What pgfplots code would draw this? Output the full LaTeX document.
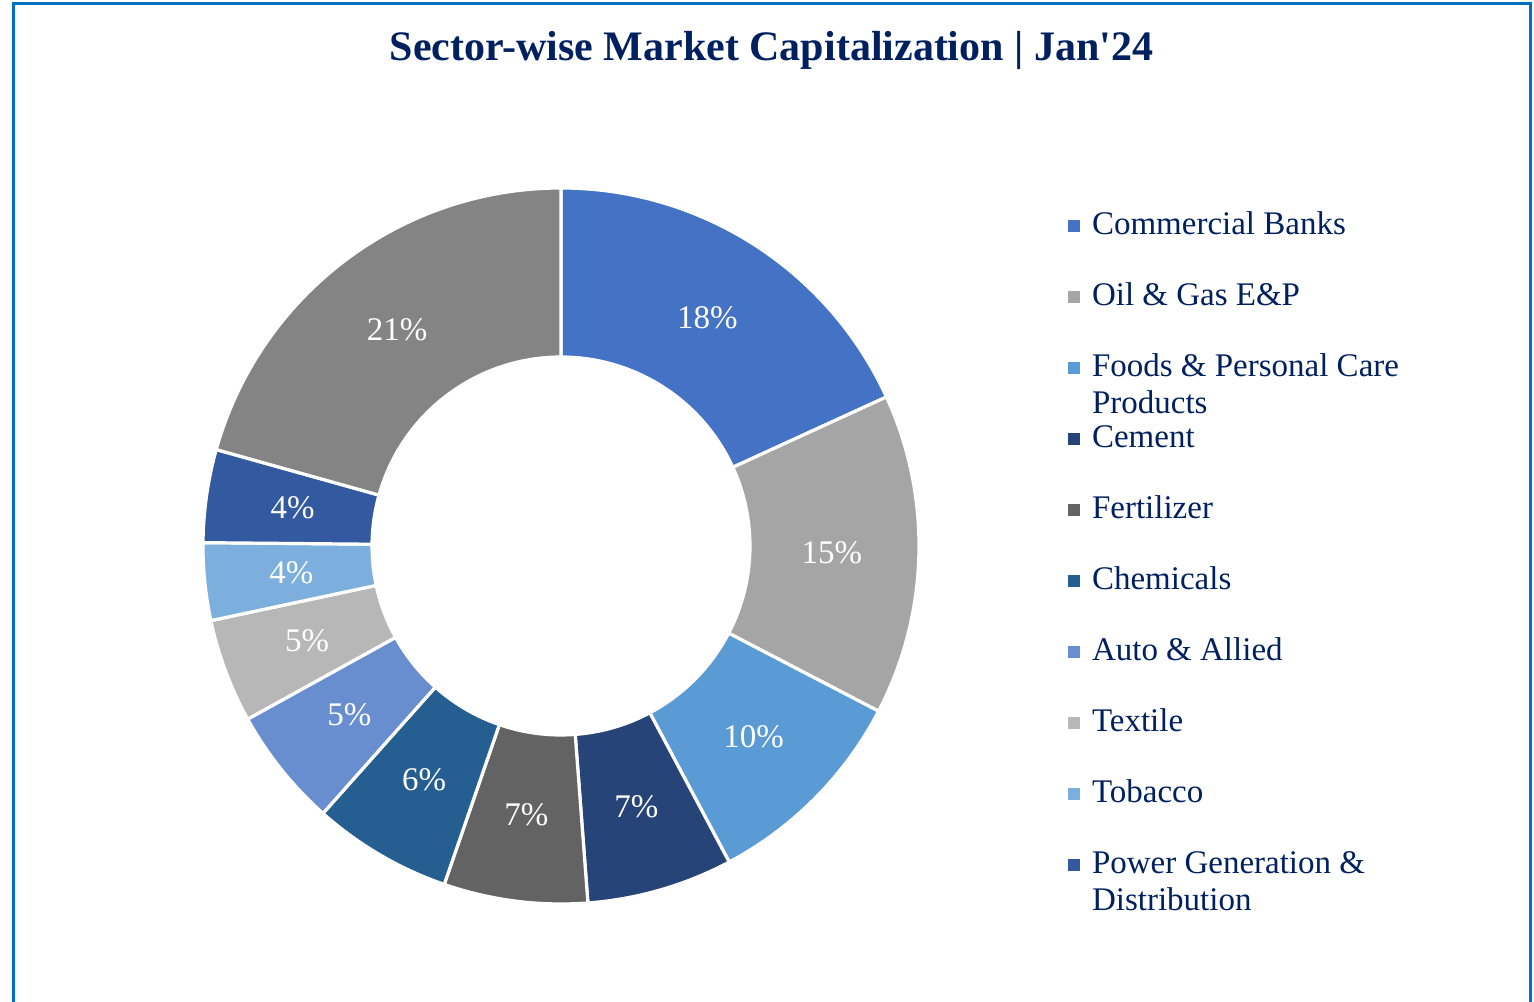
\documentclass[border=0pt]{standalone}
\usepackage{pgfplots}
\pgfplotsset{compat=1.18}
\usepackage{pgfplotstable}
\usepackage{fontspec}
\setmainfont{Liberation Serif}

\definecolor{navy}{HTML}{002060}
\definecolor{framec}{HTML}{0070C0}
\definecolor{sc0}{HTML}{4472C4}
\definecolor{sc1}{HTML}{A5A5A5}
\definecolor{sc2}{HTML}{5B9BD5}
\definecolor{sc3}{HTML}{264478}
\definecolor{sc4}{HTML}{636363}
\definecolor{sc5}{HTML}{255E91}
\definecolor{sc6}{HTML}{698ED0}
\definecolor{sc7}{HTML}{B7B7B7}
\definecolor{sc8}{HTML}{7CAFDD}
\definecolor{sc9}{HTML}{335AA1}
\definecolor{sc10}{HTML}{848484}

% sector shares (%) read off the chart, and the rounded labels shown
\pgfplotstableread{
idx share label
0 18.2 18
1 14.5 15
2 9.6 10
3 6.6 7
4 6.5 7
5 6.3 6
6 5.4 5
7 4.7 5
8 3.5 4
9 4.2 4
10 20.7 21
}\piedata

% cumulative angles (clockwise from 12 o'clock)
\def\total{0}
\pgfplotsforeachungrouped \i in {0,1,2,3,4,5,6,7,8,9,10}{%
  \pgfplotstablegetelem{\i}{share}\of\piedata
  \pgfmathsetmacro\tmpT{\total+\pgfplotsretval}%
  \xdef\total{\tmpT}%
}
\def\cum{0}
\pgfplotsforeachungrouped \i in {0,1,2,3,4,5,6,7,8,9,10}{%
  \pgfplotstablegetelem{\i}{share}\of\piedata
  \pgfmathsetmacro\tmpA{90-(\cum/\total)*360}%
  \pgfmathsetmacro\newcum{\cum+\pgfplotsretval}%
  \pgfmathsetmacro\tmpB{90-(\newcum/\total)*360}%
  \pgfmathsetmacro\tmpM{(\tmpA+\tmpB)/2}%
  \expandafter\xdef\csname sa\i\endcsname{\tmpA}%
  \expandafter\xdef\csname sb\i\endcsname{\tmpB}%
  \expandafter\xdef\csname sm\i\endcsname{\tmpM}%
  \pgfplotstablegetelem{\i}{label}\of\piedata
  \expandafter\xdef\csname sl\i\endcsname{\pgfplotsretval}%
  \xdef\cum{\newcum}%
}

\begin{document}
\begin{tikzpicture}
\begin{axis}[
  scale only axis,
  width=767pt, height=500.5pt,
  xmin=0, xmax=1534, ymin=0, ymax=1001,
  hide axis, clip=false,
  legend image code/.code={\fill[#1] (0pt,-3pt) rectangle (6pt,3pt);},
  legend cell align=left,
  legend style={draw=none, fill=none,
    at={(axis description cs:0.69622,0.78921)}, anchor=north west,
    row sep=20.5pt, column sep=6pt, inner sep=0pt, outer sep=0pt,
    font=\fontsize{16.5}{18.5}\selectfont, text=navy,
    nodes={inner sep=0pt, text height=12pt, text depth=3pt, anchor=west}},
]
% frame
\draw[framec, line width=1.5pt] (axis cs:13,-20) -- (axis cs:13,997.5) -- (axis cs:1530,997.5) -- (axis cs:1530,-20);

% title
\node[anchor=base, text=navy, font=\fontsize{21}{25}\selectfont\bfseries] at (axis cs:771.5,940) {Sector-wise Market Capitalization | Jan\textquotesingle 24};

% donut slices
\pgfplotsinvokeforeach{0,1,2,3,4,5,6,7,8,9,10}{
  \filldraw[fill=sc#1, draw=white, line width=1.6pt, line join=miter, shift={(axis cs:561,455)}]
    (\csname sa#1\endcsname:179pt)
    arc[start angle=\csname sa#1\endcsname, end angle=\csname sb#1\endcsname, radius=179pt]
    -- (\csname sb#1\endcsname:94.5pt)
    arc[start angle=\csname sb#1\endcsname, end angle=\csname sa#1\endcsname, radius=94.5pt]
    -- cycle;
  \node[text=white, font=\fontsize{16.5}{19}\selectfont]
    at ([shift={(\csname sm#1\endcsname:135.5pt)}]axis cs:561,455) {\csname sl#1\endcsname\%};
}

% legend
\addlegendimage{fill=sc0, draw=none}
\addlegendentry{Commercial Banks}
\addlegendimage{fill=sc1, draw=none}
\addlegendentry{Oil \& Gas E\&P}
\addlegendimage{fill=sc2, draw=none}
\addlegendentry{\begin{tabular}[t]{@{}l@{}}Foods \& Personal Care\\Products\end{tabular}}
\addlegendimage{fill=sc3, draw=none}
\addlegendentry{Cement}
\addlegendimage{fill=sc4, draw=none}
\addlegendentry{Fertilizer}
\addlegendimage{fill=sc5, draw=none}
\addlegendentry{Chemicals}
\addlegendimage{fill=sc6, draw=none}
\addlegendentry{Auto \& Allied}
\addlegendimage{fill=sc7, draw=none}
\addlegendentry{Textile}
\addlegendimage{fill=sc8, draw=none}
\addlegendentry{Tobacco}
\addlegendimage{fill=sc9, draw=none}
\addlegendentry{\begin{tabular}[t]{@{}l@{}}Power Generation \&\\Distribution\end{tabular}}
\end{axis}
\pgfresetboundingbox
\path (current axis.south west) rectangle (current axis.north east);
\end{tikzpicture}
\end{document}
